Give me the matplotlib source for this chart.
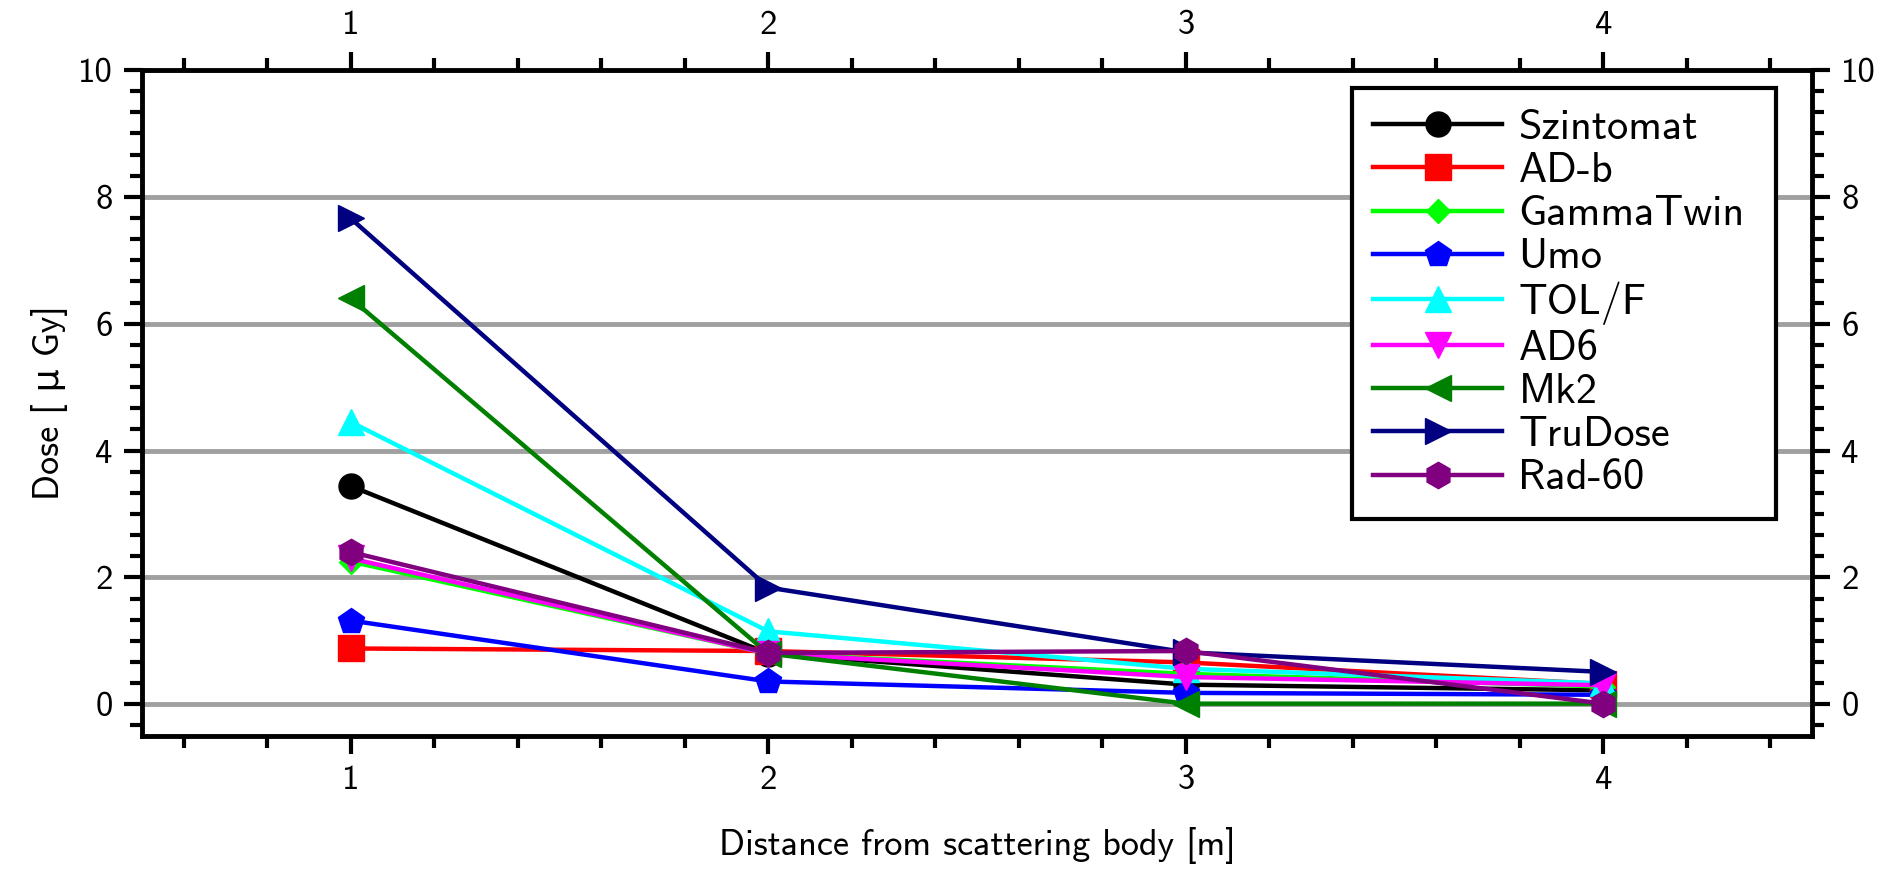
import numpy as np
import matplotlib
matplotlib.use('Agg')
import matplotlib.pyplot as plt
from matplotlib.ticker import MultipleLocator

plt.rcParams['font.family'] = ['cmss10', 'DejaVu Sans']
plt.rcParams['axes.unicode_minus'] = False

distance = [1, 2, 3, 4]
names = ['Szintomat', 'AD-b', 'GammaTwin', 'Umo', 'TOL/F', 'AD6', 'Mk2', 'TruDose', 'Rad-60']
szintomat = [3.44, 0.80, 0.31, 0.22]
ad_b = [0.88, 0.84, 0.66, 0.32]
gammatwin = [2.25, 0.80, 0.48, 0.28]
umo = [1.32, 0.36, 0.18, 0.15]
tol_f = [4.45, 1.15, 0.56, 0.33]
ad6 = [2.30, 0.80, 0.43, 0.30]
mk2 = [6.40, 0.80, 0.01, 0.01]
trudose = [7.66, 1.84, 0.82, 0.51]
rad60 = [2.40, 0.81, 0.84, 0.01]
series = [szintomat, ad_b, gammatwin, umo, tol_f, ad6, mk2, trudose, rad60]

colors = ['black', 'red', '#00ff00', 'blue', 'cyan', 'magenta', 'green', 'navy', 'purple']
markers = ['o', 's', 'D', 'p', '^', 'v', '<', '>', 'h']
msizes = [18, 19, 12, 19, 19, 19, 19, 19, 19]

W, H = 1898, 869
fig = plt.figure(figsize=(W / 100, H / 100), dpi=100)
ax = fig.add_axes([142 / W, 1 - 736 / H, (1812 - 142) / W, (736 - 70) / H])

for vals, name, c, m, ms in zip(series, names, colors, markers, msizes):
    ax.plot(distance, vals, color=c, marker=m, markersize=ms, lw=3.2, label=name, zorder=3)

ax.set_xlim(0.5, 4.5)
ax.set_ylim(-0.5, 10)
ax.xaxis.set_major_locator(MultipleLocator(1))
ax.xaxis.set_minor_locator(MultipleLocator(0.2))
ax.yaxis.set_major_locator(MultipleLocator(2))
ax.yaxis.set_minor_locator(MultipleLocator(1 / 3))

ax.grid(axis='y', which='major', color='#a0a0a0', lw=3.5, zorder=1)
ax.set_axisbelow(True)

for s in ax.spines.values():
    s.set_linewidth(3.5)
ax.tick_params(which='both', direction='out', top=True, right=True,
               labeltop=True, labelright=True, width=3, labelsize=25)
ax.tick_params(which='major', length=13, pad=8)
ax.tick_params(which='minor', length=8.5)

ax.set_xlabel('Distance from scattering body [m]', fontsize=26, labelpad=22)
ax.set_ylabel('Dose [ μ Gy]', fontsize=26, labelpad=7)

fs = 30.5
axw = 1812 - 142
axh = 736 - 70
leg = ax.legend(loc='upper left', bbox_to_anchor=((1352 - 142) / axw, 0, 424 / axw, 1 - 18 / axh),
                mode='expand', borderaxespad=0, fontsize=fs, handlelength=3.05,
                handletextpad=0.38, labelspacing=0.12, borderpad=0.5,
                fancybox=False, framealpha=1, edgecolor='black')
leg.get_frame().set_linewidth(3)

fig.savefig('out.png', dpi=100)
